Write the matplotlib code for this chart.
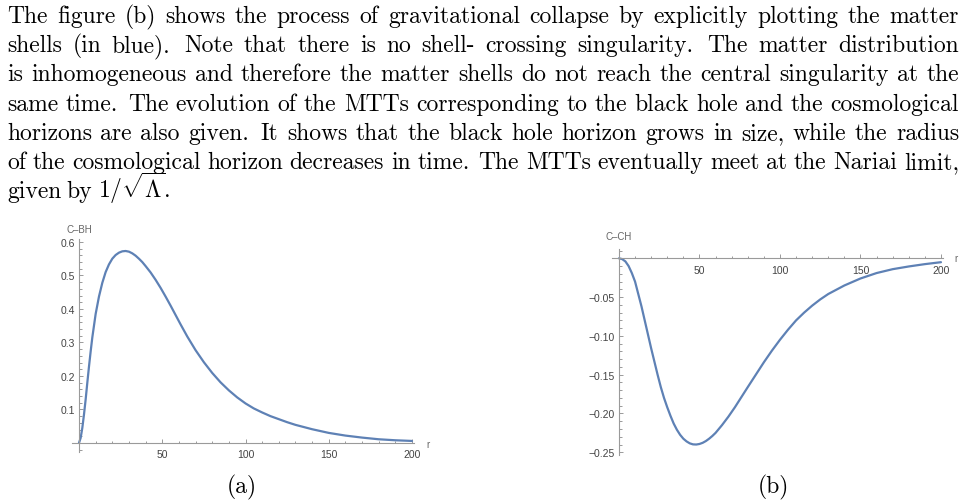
import matplotlib
matplotlib.use("Agg")
import matplotlib.pyplot as plt
from matplotlib.ticker import MultipleLocator, FixedLocator

plt.rcParams["mathtext.fontset"] = "cm"

# paragraph above the plots, one entry per typeset line
TEXT_LINES = [
    "The figure (b) shows the process of gravitational collapse by explicitly plotting the matter",
    "shells (in blue).  Note that there is no shell- crossing singularity.  The matter distribution",
    "is inhomogeneous and therefore the matter shells do not reach the central singularity at the",
    "same time. The evolution of the MTTs corresponding to the black hole and the cosmological",
    "horizons are also given. It shows that the black hole horizon grows in size, while the radius",
    "of the cosmological horizon decreases in time. The MTTs eventually meet at the Nariai limit,",
    r"given by $1/\sqrt{\Lambda}$.",
]

# (a) C-BH against r
r_bh = [0, 1, 2, 3, 4, 5, 6, 7, 8, 10, 12, 14, 16, 18, 20, 22, 24, 26, 28, 30,
        32, 34, 36, 38, 40, 43, 46, 49, 52, 55, 58, 61, 65, 70, 75, 80, 85, 90,
        95, 100, 105, 110, 115, 120, 125, 130, 140, 150, 160, 170, 180, 190, 200]
c_bh = [0.0, 0.015, 0.045, 0.085, 0.13, 0.18, 0.228, 0.273, 0.315, 0.385, 0.437,
        0.478, 0.51, 0.533, 0.55, 0.561, 0.568, 0.572, 0.573, 0.571, 0.566, 0.559,
        0.55, 0.54, 0.528, 0.509, 0.487, 0.463, 0.437, 0.41, 0.382, 0.354, 0.318,
        0.277, 0.241, 0.209, 0.181, 0.157, 0.136, 0.118, 0.103, 0.091, 0.08,
        0.071, 0.062, 0.054, 0.041, 0.03, 0.022, 0.016, 0.011, 0.008, 0.006]

# (b) C-CH against r
r_ch = [0, 2, 4, 6, 8, 10, 12, 14, 16, 18, 20, 22, 24, 26, 28, 30, 32, 34, 36,
        38, 40, 42, 44, 46, 48, 50, 52, 54, 56, 58, 60, 64, 68, 72, 76, 80, 85,
        90, 95, 100, 105, 110, 115, 120, 125, 130, 140, 150, 160, 170, 180, 190, 200]
c_ch = [0.0, -0.001, -0.004, -0.01, -0.019, -0.03, -0.046, -0.062, -0.08, -0.098,
        -0.116, -0.133, -0.15, -0.166, -0.18, -0.192, -0.203, -0.213, -0.221,
        -0.2275, -0.2325, -0.236, -0.2385, -0.2398, -0.24, -0.2393, -0.2378,
        -0.2355, -0.2325, -0.229, -0.225, -0.215, -0.204, -0.192, -0.179, -0.166,
        -0.15, -0.134, -0.119, -0.105, -0.092, -0.08, -0.07, -0.061, -0.053,
        -0.046, -0.035, -0.026, -0.019, -0.014, -0.0105, -0.0075, -0.005]

W, H = 966, 502
LINE_COLOR = "#5e81b5"
AXIS_COLOR = "#9a9a9a"
LABEL_COLOR = "#444444"
TICK_FONT = "Liberation Sans"


def style_axes(ax, xlim, ylim, ymajor, yminor):
    ax.set_xlim(*xlim)
    ax.set_ylim(*ylim)
    for side in ("top", "right"):
        ax.spines[side].set_visible(False)
    for side in ("left", "bottom"):
        ax.spines[side].set_position(("data", 0))
        ax.spines[side].set_color(AXIS_COLOR)
        ax.spines[side].set_linewidth(0.8)
    ax.xaxis.set_major_locator(FixedLocator([50, 100, 150, 200]))
    ax.xaxis.set_minor_locator(MultipleLocator(10))
    ax.yaxis.set_major_locator(FixedLocator(ymajor))
    ax.yaxis.set_minor_locator(MultipleLocator(yminor))
    ax.tick_params(which="both", direction="in", color=AXIS_COLOR, width=0.7)
    ax.tick_params(which="major", length=3.2, labelsize=7.5, labelcolor=LABEL_COLOR, pad=3)
    ax.tick_params(which="minor", length=1.8)
    ax.tick_params(axis="x", which="major", pad=4.5)
    for lab in ax.get_xticklabels() + ax.get_yticklabels():
        lab.set_family(TICK_FONT)
    ax.patch.set_visible(False)


fig = plt.figure(figsize=(W / 100, H / 100), dpi=100)

# left plot
ax1 = fig.add_axes([71.5 / W, 49 / H, 342.2 / W, 213.4 / H])
ax1.plot(r_bh, c_bh, color=LINE_COLOR, lw=1.6, solid_capstyle="round")
style_axes(ax1, (-4.5, 201), (-0.027, 0.61), [0.1, 0.2, 0.3, 0.4, 0.5, 0.6], 0.02)
ax1.yaxis.set_major_formatter(matplotlib.ticker.FormatStrFormatter("%.1f"))
ax1.annotate("C–BH", xy=(0, 0.61), xytext=(0, 7), textcoords="offset points",
             ha="center", va="center", fontsize=7, color="#666666", family=TICK_FONT)
ax1.annotate("r", xy=(201, 0), xytext=(10.5, -1), textcoords="offset points",
             ha="center", va="center", fontsize=7, color="#666666", family=TICK_FONT)

# right plot
ax2 = fig.add_axes([611.7 / W, 46 / H, 330.9 / W, 206 / H])
ax2.plot(r_ch, c_ch, color=LINE_COLOR, lw=1.6, solid_capstyle="round")
style_axes(ax2, (-4.5, 201), (-0.2535, 0.012), [-0.25, -0.2, -0.15, -0.1, -0.05], 0.01)
ax2.yaxis.set_major_formatter(matplotlib.ticker.FuncFormatter(lambda v, p: f"{v:.2f}".replace("-", "\u2212")))
ax2.annotate("C–CH", xy=(0, 0.012), xytext=(0, 9.4), textcoords="offset points",
             ha="center", va="center", fontsize=7, color="#666666", family=TICK_FONT)
ax2.annotate("r", xy=(201, 0), xytext=(10, 0), textcoords="offset points",
             ha="center", va="center", fontsize=7, color="#666666", family=TICK_FONT)

# captions
fig.text(242 / W, 1 - 487 / H, "(a)", ha="center", va="center", fontsize=17, family="cmr10")
fig.text(773 / W, 1 - 487 / H, "(b)", ha="center", va="center", fontsize=17, family="cmr10")

# justified paragraph: place words one by one
renderer = fig.canvas.get_renderer()
left_px, right_px = 7, 959
base0, step = 23, 29.2
for i, line in enumerate(TEXT_LINES):
    y = 1 - (base0 + i * step) / H
    words = line.split()
    texts = [fig.text(0, y, w, ha="left", va="baseline", fontsize=17, family="cmr10")
             for w in words]
    widths = [t.get_window_extent(renderer).width for t in texts]
    weights = [1.35 if w.endswith(".") else 1.0 for w in words[:-1]]
    if i < len(TEXT_LINES) - 1:
        spare = (right_px - left_px) - sum(widths)
        unit = spare / sum(weights)
    else:
        unit = 5.5
    x = left_px
    for k, t in enumerate(texts):
        t.set_x(x / W)
        x += widths[k]
        if k < len(weights):
            x += unit * weights[k]

fig.savefig("out.png", dpi=100)
